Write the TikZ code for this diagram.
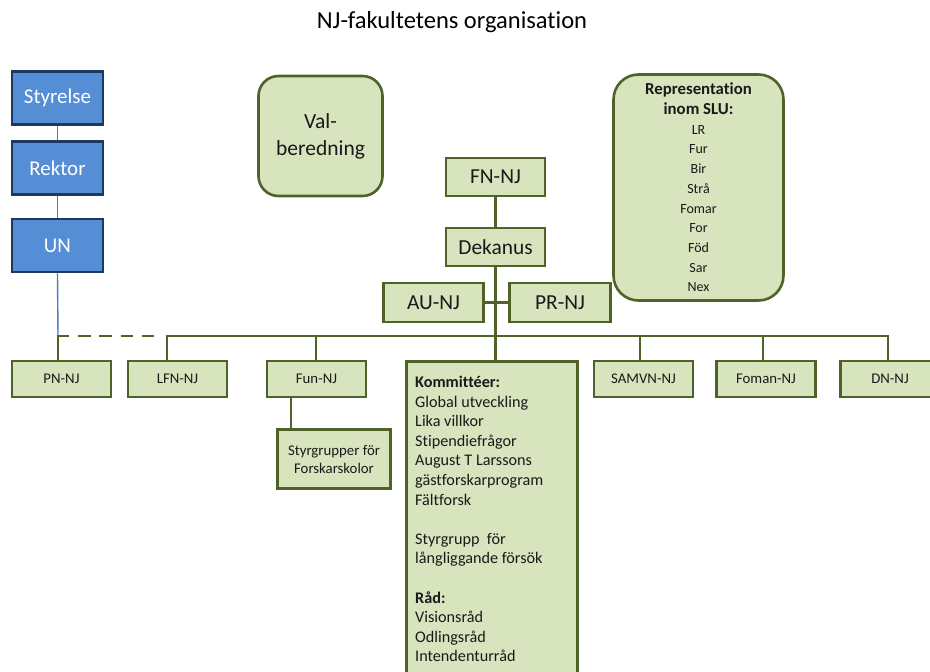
\documentclass[tikz,border=0pt]{standalone}
\usepackage{fontspec}
\setmainfont{Carlito}[Ligatures={NoCommon}]
\definecolor{gfill}{HTML}{D7E4BD}
\definecolor{gdraw}{HTML}{4F6228}
\definecolor{bfill}{HTML}{558ED5}
\definecolor{bdraw}{HTML}{1C3A61}
\definecolor{bline}{HTML}{4A7EBB}
\definecolor{txt}{HTML}{1A1A1A}
\begin{document}
\begin{tikzpicture}[x=1pt,y=-1pt,
  gbox/.style={draw=gdraw, fill=gfill, line width=2.6pt, inner sep=0pt, text=txt},
  bbox/.style={draw=bdraw, fill=bfill, line width=2.6pt, inner sep=0pt, text=white, minimum width=91pt, minimum height=53pt, font=\fontsize{21}{25}\selectfont},
  big/.style={font=\fontsize{21.4}{25}\selectfont},
  small/.style={font=\fontsize{14.8}{18}\selectfont, minimum width=99pt, minimum height=36pt},
  conn/.style={draw=gdraw, line width=2.6pt},
  bconn/.style={draw=bline, line width=1.4pt}]
\useasboundingbox (0,0) rectangle (930,672);

% title
\node (title) at (452,22) {\fontsize{24.5}{28}\selectfont NJ-fakultetens organisation};

% blue column
\node[bbox] (sty) at (57.5,98) {Styrelse};
\node[bbox] (rek) at (57.5,168) {Rektor};
\node[bbox] (un) at (57.5,245.5) {UN};

% top green
\node[gbox, rounded corners=20pt, minimum width=124pt, minimum height=120pt, align=center, font=\fontsize{21.5}{27}\selectfont] (val) at (320.5,136) {Val-\\beredning};
\node[gbox, rounded corners=25pt, minimum width=170pt, minimum height=226pt, align=center, font=\fontsize{14}{19.7}\selectfont] (rep) at (698.5,187.5)
  {{\fontsize{16.8}{19.7}\selectfont\bfseries Representation}\\{\fontsize{16.8}{19.7}\selectfont\bfseries inom SLU:}\\LR\\Fur\\Bir\\Strå\\Fomar\\For\\Föd\\Sar\\Nex};

\node[gbox, big, minimum width=99pt, minimum height=38pt] (fn) at (495.5,177) {FN-NJ};
\node[gbox, big, minimum width=99pt, minimum height=38pt] (dek) at (495.5,247) {Dekanus};
\node[gbox, big, minimum width=100pt, minimum height=39pt] (au) at (433.5,302.5) {AU-NJ};
\node[gbox, big, minimum width=101pt, minimum height=39pt] (pr) at (560,302.5) {PR-NJ};

% bottom row
\node[gbox, small] (pn) at (61.5,379) {PN-NJ};
\node[gbox, small] (lfn) at (177.5,379) {LFN-NJ};
\node[gbox, small] (fun) at (316.5,379) {Fun-NJ};
\node[gbox, minimum width=113pt, minimum height=59pt, align=center, font=\fontsize{14.8}{18}\selectfont] (sg) at (334,459) {Styrgrupper för\\Forskarskolor};
\node[gbox, small] (sam) at (643.5,379) {SAMVN-NJ};
\node[gbox, small] (fom) at (766,379) {Foman-NJ};
\node[gbox, small] (dn) at (890,379) {DN-NJ};

\node[gbox, anchor=north west, minimum width=171pt, minimum height=340pt] (kom) at (405,360) {};
\node[anchor=north west, align=left, inner sep=0pt, text=txt, font=\fontsize{16.2}{19.6}\selectfont] (komtxt) at (415,376)
  {\textbf{Kommittéer:}\\Global utveckling\\Lika villkor\\Stipendiefrågor\\August T Larssons\\gästforskarprogram\\Fältforsk\\[19.6pt]Styrgrupp\ \ för\\långliggande försök\\[19.6pt]\textbf{Råd:}\\Visionsråd\\Odlingsråd\\Intendenturråd};

% bus coordinates
\coordinate (bpn) at (58,336);
\coordinate (blfn) at (167,336);
\coordinate (bfun) at (316,336);
\coordinate (bsam) at (640,336);
\coordinate (bfom) at (763,336);
\coordinate (bdn) at (888,336);
\coordinate (fsg) at (291,398);

% blue connectors
\draw[bconn] (sty.south) -- (rek.north);
\draw[bconn] (rek.south) -- (un.north);
\draw[bconn] (un.south) -- (bpn);

% green connectors
\draw[conn, dash pattern=on 12.5pt off 8.8pt] ([xshift=-1.3pt]bpn) -- ([xshift=-9pt]blfn);
\draw[conn, line join=miter] (blfn |- lfn.north) -- (blfn) -- (bdn) -- (bdn |- dn.north);
\draw[conn] (bpn) -- (bpn |- pn.north);
\draw[conn] (bfun) -- (bfun |- fun.north);
\draw[conn] (bsam) -- (bsam |- sam.north);
\draw[conn] (bfom) -- (bfom |- fom.north);
\draw[conn] (fn.south) -- (dek.north);
\draw[conn] (dek.south) -- (kom.north -| dek.south);
\draw[conn] (au.east) -- (pr.west);
\draw[conn] (fsg) -- (fsg |- sg.north);
\end{tikzpicture}
\end{document}
